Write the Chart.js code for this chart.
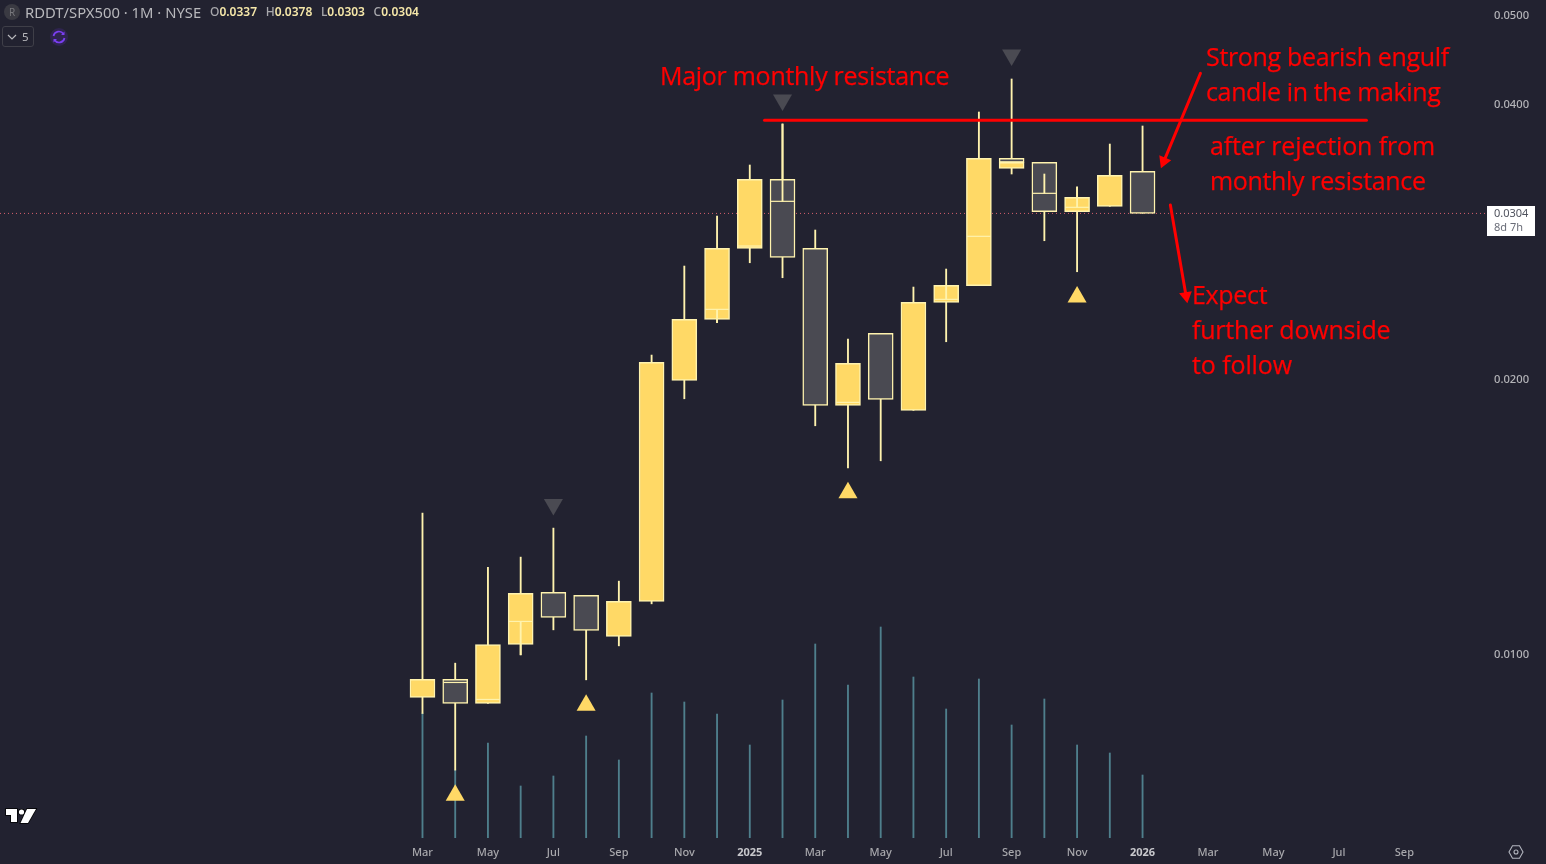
<!DOCTYPE html>
<html>
<head>
<meta charset="utf-8">
<title>RDDT/SPX500</title>
<script src="https://cdn.jsdelivr.net/npm/chart.js@4"></script>
<style>
html, body { margin: 0; padding: 0; background: #222230; overflow: hidden; }
#wrap { position: relative; width: 1546px; height: 864px; background: #222230; font-family: "Noto Sans", sans-serif; }
#mychart { position: absolute; left: 0; top: 0; }
.note { position: absolute; color: #ff0000; font-size: 25px; line-height: 30px; white-space: nowrap; font-family: "Open Sans", sans-serif; letter-spacing: -0.33px; -webkit-text-stroke: 0.25px #ff0000; }
.top { position: absolute; white-space: nowrap; }
.title { left: 25px; top: 2px; font-size: 14.8px; line-height: 20px; color: #b8b8bc; font-family: "Noto Sans", sans-serif; }
.ohlc { left: 210px; top: 3px; font-size: 12px; line-height: 18px; color: #a8a8ac; font-weight: 500; }
.ohlc b { color: #f5e7a9; font-weight: 600; margin-right: 5.5px; }
.logoR { left: 4px; top: 4px; width: 16px; height: 16px; border-radius: 8px; background: #3a3a42; color: #77777c; font-size: 10px; line-height: 16px; text-align: center; }
.chip { left: 2px; top: 26px; width: 30px; height: 19px; border: 1px solid #3f3f48; border-radius: 3px; color: #b8b8bc; font-size: 11.5px; line-height: 19px; }
.chip span { position: absolute; left: 19px; top: 0; }
.price { left: 1487px; top: 206px; width: 48px; height: 30px; background: #ffffff; color: #50535e; font-size: 11px; line-height: 14px; }
.price div { padding-left: 7px; }
</style>
</head>
<body>
<div id="wrap">
  <canvas id="mychart" width="1546" height="864"></canvas>

  <div class="top logoR">R</div>
  <div class="top title">RDDT/SPX500 · 1M · NYSE</div>
  <div class="top ohlc">O<b>0.0337</b> H<b>0.0378</b> L<b>0.0303</b> C<b>0.0304</b></div>
  <div class="top chip">
    <svg width="12" height="19" style="position:absolute;left:3px;top:0"><path d="M2 8 L6 12 L10 8" fill="none" stroke="#b8b8bc" stroke-width="1.2"/></svg>
    <span>5</span>
  </div>
  <svg class="top" style="left:49px;top:27px" width="20" height="20">
    <circle cx="10" cy="10" r="9" fill="#2f2450"/>
    <path d="M4.5 9 A5.5 5.5 0 0 1 14.5 7 M15.5 11 A5.5 5.5 0 0 1 5.5 13" fill="none" stroke="#7b3ff2" stroke-width="1.7"/>
    <path d="M15.5 4.5 V8 H12 Z M4.5 15.5 V12 H8 Z" fill="#7b3ff2"/>
  </svg>

  <div class="note" style="left:660px;top:60px;letter-spacing:-0.28px">Major monthly resistance</div>
  <div class="note" style="left:1206px;top:41px">Strong bearish engulf</div>
  <div class="note" style="left:1206px;top:76px;letter-spacing:-0.36px">candle in the making</div>
  <div class="note" style="left:1210px;top:130px;letter-spacing:-0.12px">after rejection from</div>
  <div class="note" style="left:1210px;top:165px;letter-spacing:-0.33px">monthly resistance</div>
  <div class="note" style="left:1192px;top:279px">Expect</div>
  <div class="note" style="left:1192px;top:314px;letter-spacing:-0.2px">further downside</div>
  <div class="note" style="left:1192px;top:349px;letter-spacing:-0.1px">to follow</div>

  <div class="top price"><div>0.0304</div><div style="color:#6a6d78">8d 7h</div></div>

  <svg class="top" style="left:3px;top:806px" width="36" height="20">
    <g fill="#ffffff" stroke="#000000" stroke-width="1.5" paint-order="stroke">
      <path d="M3 3 H14 V16 H8 V9 H3 Z"/>
      <circle cx="18.5" cy="6" r="2.6"/>
      <path d="M24 3 H33 L25 17 H17.5 Z"/>
    </g>
  </svg>
  <svg class="top" style="left:1508px;top:844px" width="16" height="16">
    <path d="M4.5 1.8 H11.5 L15 8 L11.5 14.2 H4.5 L1 8 Z" fill="none" stroke="#b2b5be" stroke-width="1.1"/>
    <circle cx="8" cy="8" r="2" fill="none" stroke="#b2b5be" stroke-width="1.1"/>
  </svg>
</div>

<script>
// months from Mar 2024 to Jan 2026
const months = ['Mar 24','Apr 24','May 24','Jun 24','Jul 24','Aug 24','Sep 24','Oct 24','Nov 24','Dec 24','Jan 25','Feb 25',
                'Mar 25','Apr 25','May 25','Jun 25','Jul 25','Aug 25','Sep 25','Oct 25','Nov 25','Dec 25','Jan 26'];

const opens  = [.008977,.009394,.008843,.010260,.011697,.011609,.010469,.011435,.019960,.023277,.027839,.033127,
                .027839,.018741,.022470,.018506,.024296,.025347,.034058,.034577,.030529,.030947,.033802];
const closes = [.009394,.008843,.010260,.011668,.010983,.010629,.011435,.020886,.023277,.027839,.033127,.027214,
                .018741,.020834,.019026,.024296,.025360,.034928,.034577,.030529,.031658,.033463,.030406];
const highs  = [.014286,.009788,.012458,.012786,.013756,.011609,.012035,.021274,.026624,.030200,.034343,.038082,
                .029153,.022150,.022470,.025251,.026424,.039251,.042656,.034577,.032491,.036207,.037890];
const lows   = [.008622,.007475,.008843,.009995,.010645,.009385,.010224,.011366,.019055,.023078,.026846,.025851,
                .017802,.016013,.016298,.018506,.022000,.025347,.033573,.028377,.026244,.030947,.030406];

// thin inner level seen inside some of the bodies
const innerLevels = [null,.009323,.008932,.010873,null,null,null,null,null,.023871,.028001,.031340,
                     null,.018883,null,null,.024480,.028694,.034577,.031978,.030870,null,null];
// wick part that stays visible on top of the body
const innerWickLow  = [null,null,null,.009995,null,null,null,null,null,.023078,null,.031340,
                       null,null,null,null,.024480,null,null,.031978,.030870,null,null];
const innerWickHigh = [null,null,null,.010873,null,null,null,null,null,.023871,null,.038082,
                       null,null,null,null,.025360,null,null,.033573,.032491,null,null];
// Sep 2025 has a grey cap above its yellow body
const capMonth = 18;
const capTop = .034928;

const volumes = [12.5,6.8,9.5,5.2,6.2,10.2,7.8,14.5,13.6,12.4,9.3,13.8,
                 19.4,15.3,21.1,16.1,12.9,15.9,11.3,13.9,9.3,8.5,6.3];

const upMarkMonths = [1,5,13,20];
const upMarkValues = [.007018,.008805,.015036,.024622];
const downMarkMonths = [4,11,18];
const downMarkValues = [.014602,.040456,.045315];

const lastPrice = .0304;
const resistanceLevel = .038438;
const resistanceMonths = [10.45,28.84];
const arrowOneMonths = [23.77,22.65];
const arrowOneValues = [.043274,.034664];
const arrowTwoMonths = [22.85,23.33];
const arrowTwoValues = [.031049,.024691];

const xTickMonths = [0,2,4,6,8,10,12,14,16,18,20,22,24,26,28,30];
const xTickLabels = ['Mar','May','Jul','Sep','Nov','2025','Mar','May','Jul','Sep','Nov','2026','Mar','May','Jul','Sep'];
const yTicks = [.05,.04,.02,.01];

const xMin = -12.908, xMax = 32.463;
const yMin = .00630, yMax = .05205;

const yellow = '#ffd966';
const grey = '#4a4a52';
const edge = '#fff3ae';

function rows(lo, hi) {
    let out = [];
    for (let i = 0; i < months.length; i++) {
        if (lo[i] !== null && hi[i] !== null) out.push({x: i, y: [lo[i], hi[i]]});
    }
    return out;
}

const bodies = months.map((m, i) => ({x: i, y: [opens[i], closes[i]]}));
const bodyColors = months.map((m, i) => closes[i] >= opens[i] ? yellow : grey);
const innerPoints = [];
innerLevels.forEach((v, i) => { if (v !== null) innerPoints.push({x: i, y: v}); });

function pts(xs, ys) {
    return xs.map((x, i) => ({x: x, y: Array.isArray(ys) ? ys[i] : ys}));
}

new Chart(document.getElementById('mychart'), {
    type: 'bar',
    data: {
        datasets: [
            // last price dotted line
            {type: 'line', order: 9, data: pts([xMin, xMax], lastPrice), borderColor: '#d6606e', borderWidth: 1, borderDash: [1, 3], pointRadius: 0},
            // volume
            {order: 8, yAxisID: 'yVol', data: volumes.map((v, i) => ({x: i, y: v})), backgroundColor: '#4f7f8c', barThickness: 1.2, grouped: false},
            // wicks
            {order: 7, data: rows(lows, highs), backgroundColor: edge, barThickness: 1.2, grouped: false},
            // bodies
            {order: 6, data: bodies, backgroundColor: bodyColors, borderColor: edge, borderWidth: 1.5, borderSkipped: false, barThickness: 25, grouped: false},
            {order: 5, data: [{x: capMonth, y: [closes[capMonth], capTop]}], backgroundColor: grey, borderColor: edge, borderWidth: 1.5, borderSkipped: false, barThickness: 25, grouped: false},
            {order: 4, data: rows(innerWickLow, innerWickHigh), backgroundColor: edge, barThickness: 1.2, grouped: false},
            {type: 'scatter', order: 3, data: innerPoints, pointStyle: 'line', pointRadius: 12, pointBorderWidth: 1.2, pointBorderColor: edge},
            // pivots
            {type: 'scatter', order: 2, data: pts(upMarkMonths, upMarkValues), pointStyle: 'triangle', pointRadius: 11, pointBackgroundColor: yellow, pointBorderWidth: 0},
            {type: 'scatter', order: 2, data: pts(downMarkMonths, downMarkValues), pointStyle: 'triangle', pointRotation: 180, pointRadius: 11, pointBackgroundColor: grey, pointBorderWidth: 0},
            // drawn annotations
            {type: 'line', order: 1, data: pts(resistanceMonths, resistanceLevel), borderColor: '#ff0000', borderWidth: 3, borderCapStyle: 'round', pointRadius: 0},
            {type: 'line', order: 1, data: pts(arrowOneMonths, arrowOneValues), borderColor: '#ff0000', borderWidth: 3, borderCapStyle: 'round',
                pointStyle: 'triangle', pointRadius: [0, 7.5], pointRotation: 202.5, pointBackgroundColor: '#ff0000', pointBorderWidth: 0},
            {type: 'line', order: 1, data: pts(arrowTwoMonths, arrowTwoValues), borderColor: '#ff0000', borderWidth: 3, borderCapStyle: 'round',
                pointStyle: 'triangle', pointRadius: [0, 7.5], pointRotation: 170.3, pointBackgroundColor: '#ff0000', pointBorderWidth: 0}
        ]
    },
    options: {
        responsive: false,
        animation: false,
        events: [],
        layout: {padding: 0, autoPadding: false},
        plugins: {legend: {display: false}, tooltip: {enabled: false}},
        scales: {
            x: {
                type: 'linear',
                offset: false,
                min: xMin,
                max: xMax,
                grid: {display: false, drawTicks: false},
                border: {display: false},
                afterFit: function(s) { s.height = 26; s.paddingLeft = 0; s.paddingRight = 0; },
                afterBuildTicks: function(s) { s.ticks = xTickMonths.map(v => ({value: v})); },
                ticks: {
                    autoSkip: false,
                    maxRotation: 0,
                    padding: 8,
                    color: function(c) { return c.tick && xTickLabels[xTickMonths.indexOf(c.tick.value)].length == 4 ? '#c8c8cc' : '#a8a8ac'; },
                    font: function(c) {
                        let bold = c.tick && xTickLabels[xTickMonths.indexOf(c.tick.value)].length == 4;
                        return {family: '"Noto Sans"', size: 11, weight: bold ? '700' : '500'};
                    },
                    callback: function(v) { return xTickLabels[xTickMonths.indexOf(v)]; }
                }
            },
            y: {
                type: 'logarithmic',
                position: 'right',
                min: yMin,
                max: yMax,
                bounds: 'data',
                grid: {display: false, drawTicks: false},
                border: {display: false},
                afterFit: function(s) { s.width = 61; s.paddingTop = 0; s.paddingBottom = 0; },
                afterBuildTicks: function(s) { s.ticks = yTicks.map(v => ({value: v})); },
                ticks: {
                    autoSkip: false,
                    padding: 9,
                    color: '#b4b4b8',
                    font: {family: '"Noto Sans"', size: 11.2, weight: '500'},
                    callback: function(v) { return Number(v).toFixed(4); }
                }
            },
            yVol: {
                type: 'linear',
                display: false,
                min: 0,
                max: 83.8
            }
        }
    }
});
</script>
</body>
</html>
